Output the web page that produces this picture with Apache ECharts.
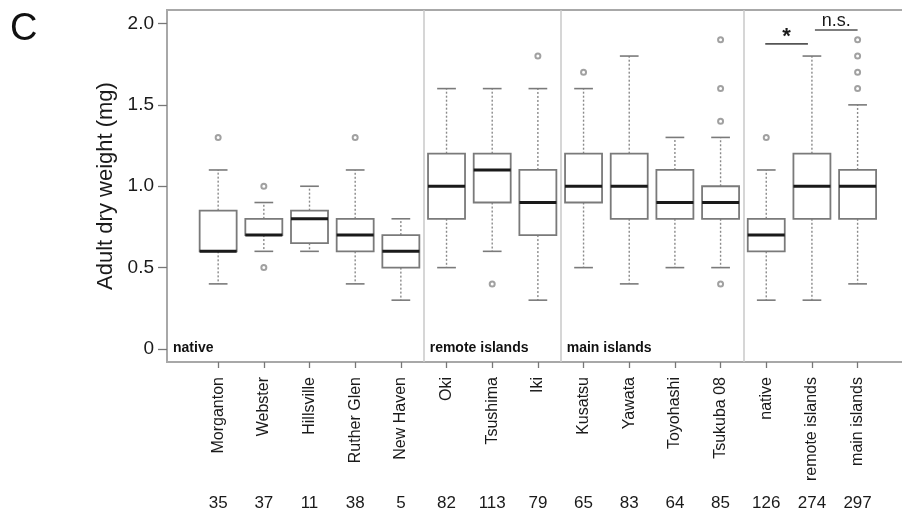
<!DOCTYPE html>
<html>
<head>
<meta charset="utf-8">
<script src="https://cdn.jsdelivr.net/npm/echarts@6/dist/echarts.min.js"></script>
<style>
html,body{margin:0;padding:0;background:#fff;}
#chart{width:902px;height:516px;}
</style>
</head>
<body>
<div id="chart"></div>
<script>
// ---- data ----
const categories = ['Morganton','Webster','Hillsville','Ruther Glen','New Haven','Oki','Tsushima','Iki','Kusatsu','Yawata','Toyohashi','Tsukuba 08','native','remote islands','main islands'];
const counts      = [35, 37, 11, 38, 5, 82, 113, 79, 65, 83, 64, 85, 126, 274, 297];
const whiskerLow  = [0.4, 0.6, 0.6, 0.4, 0.3, 0.5, 0.6, 0.3, 0.5, 0.4, 0.5, 0.5, 0.3, 0.3, 0.4];
const quartile1   = [0.6, 0.7, 0.65, 0.6, 0.5, 0.8, 0.9, 0.7, 0.9, 0.8, 0.8, 0.8, 0.6, 0.8, 0.8];
const medians     = [0.6, 0.7, 0.8, 0.7, 0.6, 1.0, 1.1, 0.9, 1.0, 1.0, 0.9, 0.9, 0.7, 1.0, 1.0];
const quartile3   = [0.85, 0.8, 0.85, 0.8, 0.7, 1.2, 1.2, 1.1, 1.2, 1.2, 1.1, 1.0, 0.8, 1.2, 1.1];
const whiskerHigh = [1.1, 0.9, 1.0, 1.1, 0.8, 1.6, 1.6, 1.6, 1.6, 1.8, 1.3, 1.3, 1.1, 1.8, 1.5];
const outlierCategory = ['Morganton','Webster','Webster','Ruther Glen','Tsushima','Iki','Kusatsu','Tsukuba 08','Tsukuba 08','Tsukuba 08','Tsukuba 08','native','main islands','main islands','main islands','main islands'];
const outlierValue    = [1.3, 1.0, 0.5, 1.3, 0.4, 1.8, 1.7, 1.9, 1.6, 1.4, 0.4, 1.3, 1.9, 1.8, 1.7, 1.6];
const groupNames  = ['native', 'remote islands', 'main islands', ''];
const groupFirst  = ['Morganton', 'Oki', 'Kusatsu', 'native'];
const yTicks      = [0, 0.5, 1.0, 1.5, 2.0];
const compareFrom = ['native', 'remote islands'];
const compareTo   = ['remote islands', 'main islands'];
const compareText = ['*', 'n.s.'];
const compareLevel = [1.875, 1.96];
const yTitle = 'Adult dry weight (mg)';
const panelLetter = 'C';

// ---- build ----
const FONT = '"Liberation Sans", Arial, sans-serif';
const idx = name => categories.indexOf(name);
const catIdx = categories.map((c, i) => i);
const boxData = categories.map((c, i) => [i, whiskerLow[i], quartile1[i], medians[i], quartile3[i], whiskerHigh[i]]);
const outData = outlierCategory.map((c, k) => [idx(c), outlierValue[k]]);
const sepData = groupFirst.slice(1).map(g => ({ xAxis: idx(g) - 0.5 }));
const groupLabelData = groupNames.map((g, k) => [k === 0 ? -1.12 : idx(groupFirst[k]) - 0.5, 0, g]).filter(d => d[2]);
const compareData = compareText.map((t, k) => [idx(compareFrom[k]), idx(compareTo[k]), compareLevel[k], t]);

const chart = echarts.init(document.getElementById('chart'), null, { renderer: 'canvas' });

function renderBox(params, api) {
  const x = api.value(0);
  const pLow = api.coord([x, api.value(1)]);
  const pQ1 = api.coord([x, api.value(2)]);
  const pMed = api.coord([x, api.value(3)]);
  const pQ3 = api.coord([x, api.value(4)]);
  const pHigh = api.coord([x, api.value(5)]);
  const unit = api.size([1, 0])[0];
  const hw = unit * 0.405;
  const cw = unit * 0.205;
  const cx = pMed[0];
  const grey = '#7a7a7a';
  const dash = { stroke: '#8a8a8a', lineWidth: 1.4, lineDash: [2, 2], fill: null };
  return {
    type: 'group',
    children: [
      { type: 'line', shape: { x1: cx, y1: pQ3[1], x2: cx, y2: pHigh[1] }, style: dash },
      { type: 'line', shape: { x1: cx, y1: pQ1[1], x2: cx, y2: pLow[1] }, style: dash },
      { type: 'line', shape: { x1: cx - cw, y1: pHigh[1], x2: cx + cw, y2: pHigh[1] }, style: { stroke: grey, lineWidth: 1.6 } },
      { type: 'line', shape: { x1: cx - cw, y1: pLow[1], x2: cx + cw, y2: pLow[1] }, style: { stroke: grey, lineWidth: 1.6 } },
      { type: 'rect', shape: { x: cx - hw, y: pQ3[1], width: hw * 2, height: pQ1[1] - pQ3[1] }, style: { fill: 'rgba(255,255,255,0)', stroke: grey, lineWidth: 1.8 } },
      { type: 'line', shape: { x1: cx - hw, y1: pMed[1], x2: cx + hw, y2: pMed[1] }, style: { stroke: '#1a1a1a', lineWidth: 3 } }
    ]
  };
}

function renderGroupLabel(params, api) {
  const p = api.coord([api.value(0), api.value(1)]);
  const name = groupLabelData[params.dataIndex][2];
  return {
    type: 'text',
    x: p[0] + 6, y: p[1] - 1,
    style: { text: name, fill: '#111', font: 'bold 14px ' + FONT, textAlign: 'left', textVerticalAlign: 'middle' }
  };
}

function renderCompare(params, api) {
  const d = compareData[params.dataIndex];
  const a = api.coord([d[0], d[2]]);
  const b = api.coord([d[1], d[2]]);
  const star = d[3] === '*';
  const x1 = star ? a[0] - 1 : a[0] + 3;
  const x2 = star ? b[0] - 4 : b[0];
  return {
    type: 'group',
    children: [
      { type: 'line', shape: { x1: x1, y1: a[1], x2: x2, y2: a[1] }, style: { stroke: '#555', lineWidth: 1.6 } },
      { type: 'text', x: (x1 + x2) / 2, y: star ? a[1] - 6.5 : a[1] - 8.5,
        style: { text: d[3], fill: '#1a1a1a', font: (star ? 'bold 22px ' : '18px ') + FONT, textAlign: 'center', textVerticalAlign: 'middle' } }
    ]
  };
}

const option = {
  animation: false,
  backgroundColor: '#fff',
  graphic: [{
    type: 'text', left: 10, top: 11,
    style: { text: panelLetter, fill: '#111', font: '38px ' + FONT }
  }],
  grid: {
    left: 167, top: 10, right: -20, bottom: 154,
    show: true, borderColor: '#a8a8a8', borderWidth: 2, backgroundColor: 'transparent',
    outerBoundsMode: 'none', containLabel: false
  },
  xAxis: [{
    type: 'value', min: -1.12, max: 15.41, position: 'bottom',
    axisLine: { show: false, onZero: false }, splitLine: { show: false },
    axisTick: { show: true, customValues: catIdx, length: 6, lineStyle: { color: '#777', width: 1.3 } },
    axisLabel: {
      customValues: catIdx, rotate: 90, margin: 15,
      formatter: v => categories[Math.round(v)] || '',
      color: '#1a1a1a', fontSize: 16, fontFamily: FONT
    }
  }, {
    type: 'value', min: -1.12, max: 15.41, position: 'bottom', offset: 125,
    axisLine: { show: false, onZero: false }, splitLine: { show: false }, axisTick: { show: false },
    axisLabel: {
      customValues: catIdx, margin: 8,
      formatter: v => String(counts[Math.round(v)]),
      color: '#1a1a1a', fontSize: 17, fontFamily: FONT
    }
  }],
  yAxis: {
    type: 'value', min: -0.08, max: 2.083, position: 'left',
    name: yTitle, nameLocation: 'middle', nameGap: 50,
    nameTextStyle: { fontSize: 22, color: '#1a1a1a', fontFamily: FONT },
    axisLine: { show: false, onZero: false }, splitLine: { show: false },
    axisTick: { show: true, customValues: yTicks, length: 9, lineStyle: { color: '#777', width: 1.3 } },
    axisLabel: {
      customValues: yTicks, margin: 13,
      formatter: v => (v === 0 ? '0' : v.toFixed(1)),
      color: '#1a1a1a', fontSize: 19, fontFamily: FONT
    }
  },
  series: [
    {
      type: 'custom', name: 'boxes', renderItem: renderBox, data: boxData,
      encode: { x: 0, y: [1, 2, 3, 4, 5] }, silent: true, z: 3,
      markLine: {
        silent: true, symbol: 'none', label: { show: false },
        lineStyle: { color: '#c8c8c8', width: 1.5, type: 'solid' },
        data: sepData
      }
    },
    {
      type: 'scatter', name: 'outliers', data: outData,
      symbol: 'emptyCircle', symbolSize: 5,
      itemStyle: { color: '#8a8a8a', borderColor: '#8a8a8a', borderWidth: 1.2 },
      silent: true, z: 4
    },
    {
      type: 'custom', name: 'groups', renderItem: renderGroupLabel,
      data: groupLabelData.map(d => [d[0], d[1]]), silent: true, z: 5
    },
    {
      type: 'custom', name: 'compare', renderItem: renderCompare,
      data: compareData.map(d => [d[0], d[2]]), silent: true, z: 5
    }
  ]
};
chart.setOption(option);
</script>
</body>
</html>
